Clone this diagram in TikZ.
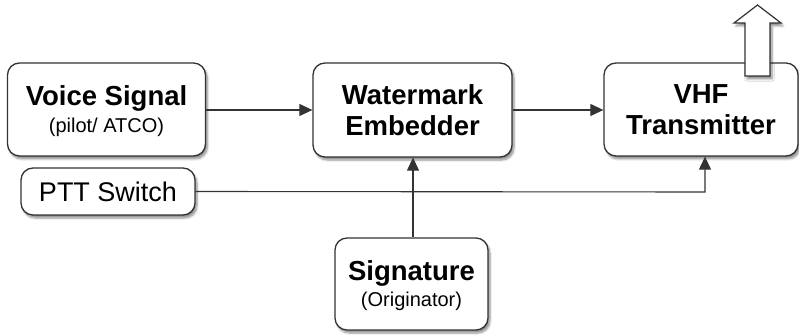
\documentclass[tikz,border=0pt]{standalone}
\usepackage{fontspec}
\setmainfont{Liberation Sans}
\usetikzlibrary{shadows.blur,arrows.meta}
\begin{document}
\begin{tikzpicture}[x=1pt,y=-1pt,
  box/.style={draw=black!80, line width=1.3pt, rounded corners=12pt, fill=white,
    blur shadow={shadow xshift=2pt, shadow yshift=-3pt, shadow blur steps=6, shadow opacity=45},
    align=center, inner sep=0pt},
  conn/.style={draw=black!80, line width=1.1pt},
  arr/.style={conn, -{Triangle[length=13pt,width=12pt]}},
  big/.style={font=\bfseries\fontsize{27.5}{31}\selectfont},
  small/.style={font=\fontsize{20}{23}\selectfont}]
\useasboundingbox (0,0) rectangle (799,336);
\node[box, minimum width=198pt, minimum height=93pt] (voice) at (106.5,109.5) {};
\node[big] (voicet) at (106.5,98) {Voice Signal};
\node[small] (voices) at (106.5,127) {(pilot/ ATCO)};
\node[box, minimum width=174pt, minimum height=47pt, font=\fontsize{27}{30}\selectfont] (ptt) at (108,191.5) {PTT Switch};
\node[box, minimum width=199pt, minimum height=94pt, big] (wm) at (412.5,110) {Watermark\\[0pt]Embedder};
\node[box, minimum width=194pt, minimum height=93pt, big] (vhf) at (701,109.5) {VHF\\[0pt]Transmitter};
\node[box, minimum width=153pt, minimum height=92pt] (sig) at (411.5,284) {};
\node[big] (sigt) at (411.5,273) {Signature};
\node[small] (sigs) at (411.5,301) {(Originator)};
\coordinate (bend) at (705,192);
\draw[arr] (voice.east |- 0,110) -- (wm.west |- 0,110);
\draw[arr] (wm.east |- 0,110) -- (vhf.west |- 0,110);
\draw[arr] (sig.north -| 413,0) -- (wm.south -| 413,0);
\draw[arr] (ptt.east) -- (bend) -- (vhf.south -| bend);
\path[draw=black!80, line width=1.2pt, fill=white, line join=miter,
    blur shadow={shadow xshift=2pt, shadow yshift=-3pt, shadow blur steps=6, shadow opacity=45}]
  (745,76) -- (745,23) -- (734,23) -- (757.5,5) -- (781,23) -- (770,23) -- (770,76) -- cycle;
\end{tikzpicture}
\end{document}
